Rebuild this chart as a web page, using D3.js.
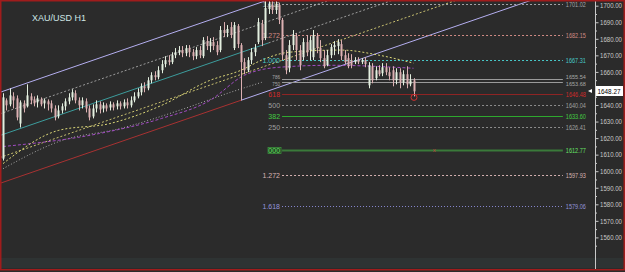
<!DOCTYPE html>
<html>
<head>
<meta charset="utf-8">
<script src="https://cdn.jsdelivr.net/npm/d3@7"></script>
<style>
  body { margin: 0; background: #2b2b2b; }
  svg { display: block; }
</style>
</head>
<body>
<svg id="chart"></svg>
<script>
// XAU/USD hourly candles
const title = "XAU/USD H1";

const opens = [1607.6,1642.8,1640.4,1645.2,1644.0,1628.8,1641.0,1639.2,1645.2,1643.4,
  1641.6,1643.4,1641.0,1642.2,1641.0,1637.9,1633.1,1636.7,1639.2,1642.2,
  1644.6,1647.1,1642.8,1639.8,1642.2,1637.9,1633.1,1637.9,1640.4,1637.9,
  1639.8,1638.5,1640.4,1639.2,1641.0,1639.2,1641.6,1639.8,1642.8,1645.2,
  1647.7,1651.3,1650.1,1654.9,1658.0,1656.8,1661.0,1664.7,1667.1,1665.9,
  1670.1,1671.9,1673.2,1671.3,1674.4,1671.9,1669.5,1673.2,1669.5,1678.6,
  1675.6,1678.0,1676.2,1673.2,1685.3,1683.5,1687.1,1674.4,1687.7,1676.2,
  1665.9,1661.0,1667.1,1671.9,1678.0,1688.9,1680.4,1698.0,1700.5,1697.4,
  1700.5,1691.4,1670.1,1662.2,1676.2,1681.6,1673.2,1668.9,1678.0,1673.2,
  1668.9,1681.6,1674.4,1668.3,1664.0,1670.1,1675.0,1675.6,1676.8,1670.1,
  1668.3,1667.1,1665.9,1667.1,1665.9,1667.1,1651.9,1663.4,1656.2,1661.0,
  1659.2,1662.8,1659.8,1661.0,1654.9,1659.8,1653.7,1658.6,1652.5,1654.9];
const highs = [1647.1,1644.0,1650.1,1647.7,1645.8,1642.8,1642.8,1652.5,1647.1,1645.2,
  1645.8,1644.6,1644.0,1643.4,1642.8,1639.8,1639.8,1641.0,1644.0,1647.1,
  1649.5,1648.9,1644.6,1644.6,1644.0,1639.8,1640.4,1642.8,1642.2,1641.6,
  1641.0,1642.2,1641.6,1642.8,1642.2,1643.4,1644.0,1645.2,1647.7,1650.1,
  1653.1,1653.7,1656.8,1659.8,1660.4,1663.4,1667.1,1669.5,1670.1,1671.9,
  1674.4,1675.6,1675.6,1676.2,1676.2,1673.8,1675.0,1675.6,1681.0,1681.6,
  1680.4,1681.0,1678.6,1687.7,1690.1,1688.3,1690.1,1690.1,1688.9,1677.4,
  1668.3,1668.9,1674.4,1676.8,1692.6,1691.4,1703.5,1703.5,1702.9,1702.9,
  1701.7,1692.6,1673.2,1679.2,1685.3,1683.5,1676.2,1680.4,1682.3,1681.6,
  1685.3,1683.5,1679.2,1673.2,1673.2,1676.8,1678.6,1679.8,1679.2,1673.2,
  1671.3,1670.7,1668.9,1668.9,1668.3,1668.9,1665.9,1665.3,1663.4,1664.0,
  1665.3,1665.3,1662.8,1663.4,1662.2,1662.2,1661.0,1663.4,1658.6,1656.2];
const lows = [1606.4,1636.7,1639.2,1637.9,1630.7,1626.4,1635.5,1638.5,1640.4,1639.2,
  1638.5,1639.2,1637.9,1636.7,1635.5,1630.7,1631.9,1634.9,1636.7,1640.4,
  1642.8,1641.0,1636.7,1637.9,1635.5,1630.7,1631.9,1635.5,1634.9,1635.5,
  1636.1,1636.7,1636.7,1637.3,1637.3,1637.9,1637.9,1638.5,1641.6,1644.0,
  1645.8,1647.7,1648.9,1653.1,1654.9,1655.5,1659.2,1662.8,1664.0,1664.7,
  1668.3,1670.1,1668.9,1669.5,1668.9,1667.1,1667.7,1668.3,1668.3,1673.2,
  1671.9,1673.2,1670.1,1671.9,1681.0,1681.0,1680.4,1673.2,1674.4,1642.8,
  1658.6,1659.8,1664.7,1669.5,1676.8,1675.6,1679.2,1695.0,1695.0,1695.0,
  1688.9,1667.1,1658.6,1659.8,1673.2,1667.1,1661.0,1667.1,1669.5,1667.1,
  1667.1,1671.3,1665.9,1662.2,1663.4,1668.3,1670.1,1670.7,1667.1,1664.7,
  1662.2,1662.2,1664.7,1664.7,1664.7,1662.8,1650.1,1653.1,1654.9,1657.4,
  1657.4,1658.0,1654.9,1651.3,1652.5,1650.1,1651.9,1650.1,1651.3,1645.2];
const closes = [1644.6,1639.8,1645.8,1642.8,1632.5,1641.6,1637.9,1645.8,1642.8,1641.0,
  1644.0,1640.4,1642.8,1640.4,1637.9,1632.5,1636.7,1639.2,1642.2,1644.6,
  1647.7,1642.8,1639.8,1642.8,1637.9,1632.5,1637.9,1640.4,1637.3,1639.8,
  1637.9,1640.4,1638.5,1641.0,1639.2,1641.6,1639.8,1642.8,1645.2,1647.7,
  1651.3,1650.1,1654.9,1658.0,1656.8,1661.0,1664.7,1667.1,1665.9,1670.1,
  1671.9,1673.2,1671.3,1674.4,1671.9,1669.5,1673.2,1670.1,1679.2,1675.6,
  1678.0,1675.6,1671.9,1685.3,1683.5,1685.9,1682.3,1688.3,1676.8,1665.9,
  1661.0,1667.1,1671.9,1674.4,1690.1,1679.2,1698.6,1701.1,1697.4,1701.1,
  1691.4,1670.1,1661.0,1676.2,1682.3,1673.2,1664.0,1678.0,1671.9,1679.2,
  1682.3,1674.4,1668.3,1663.4,1670.1,1675.0,1676.2,1678.0,1669.5,1665.9,
  1663.4,1664.0,1667.1,1665.9,1667.1,1664.7,1664.0,1654.9,1661.0,1658.6,
  1662.8,1659.8,1657.4,1654.9,1659.8,1653.7,1658.6,1652.5,1654.9,1648.27];

// moving averages, sampled at candle index
const maFastIdx = [0, 16, 31, 46, 60, 69, 75, 83, 98, 109, 119];
const maFastVal = [1604.6, 1624.6, 1628.8, 1639.8, 1654.9, 1661.0, 1667.1, 1671.9, 1673.2, 1670.1, 1665.3];
const maSlowIdx = [0, 28, 46, 60, 70, 80, 95, 119];
const maSlowVal = [1614.9, 1622.8, 1631.9, 1642.8, 1658.0, 1662.8, 1664.0, 1662.2];
const maLongIdx = [0, 17, 34, 51, 66, 75];
const maLongVal = [1601.5, 1618.5, 1625.8, 1636.7, 1647.7, 1653.7];

// channel: two points on the upper line (index, price) and offsets of the parallels
const channelAnchor = [[0, 1648.3], [60, 1691.4]];
const channelOffsets = [0, -13, -26.1, -39.4, -55];

// fibonacci levels
const fibLabels = ["1.618", "1.272", "1.000", "786", "750", "618", "500", "382", "250", "000", "1.272", "1.618"];
const fibValues = [1701.02, 1682.15, 1667.31, 1655.54, 1653.68, 1646.48, 1640.04, 1633.60, 1626.41, 1612.77, 1597.93, 1579.06];
const fibFrom = 80.6, fibTo = 162.3;

const priceTicks = [1560, 1570, 1580, 1590, 1600, 1610, 1620, 1630, 1640, 1650, 1660, 1670, 1680, 1690, 1700];
const minorTicks = [1555, 1565, 1575, 1585, 1595, 1605, 1615, 1625, 1635, 1645, 1655, 1665, 1675, 1685, 1695, 1705];
const lastPrice = 1648.27;

const W = 625, H = 272;
const axisX = 595;

const svg = d3.select("#chart").attr("width", W).attr("height", H);

svg.append("rect").attr("width", W).attr("height", H).attr("fill", "#2b2b2b");
svg.append("rect").attr("x", 1).attr("y", 258).attr("width", 622).attr("height", 10).attr("fill", "#2e3333");

const x = d3.scaleLinear().domain([0, closes.length - 1]).range([3, 413.5]);
const y = d3.scaleLinear().domain([1560, 1700]).range([237.4, 5.7]);

svg.append("defs").append("clipPath").attr("id", "plot")
  .append("rect").attr("x", 1).attr("y", 1).attr("width", axisX - 1).attr("height", 267);

const plot = svg.append("g").attr("clip-path", "url(#plot)");

// channel lines
function chanPrice(i, off) {
  const [a, b] = channelAnchor;
  return a[1] + (i - a[0]) * (b[1] - a[1]) / (b[0] - a[0]) + off;
}
const channelParts = [
  { k: 0, from: -2, to: 200, color: "#b4aef0", dash: null },
  { k: 1, from: -2, to: 200, color: "#9c9c9c", dash: "2,2" },
  { k: 2, from: -2, to: 77, color: "#3c9c9c", dash: null },
  { k: 2, from: 77, to: 200, color: "#9c9c9c", dash: "2,2" },
  { k: 3, from: -2, to: 200, color: "#c8c070", dash: "2,2" },
  { k: 4, from: -2, to: 69, color: "#a83232", dash: null },
  { k: 4, from: 69, to: 200, color: "#b4aef0", dash: null }
];
channelParts.forEach(p => {
  plot.append("line")
    .attr("x1", x(p.from)).attr("y1", y(chanPrice(p.from, channelOffsets[p.k])))
    .attr("x2", x(p.to)).attr("y2", y(chanPrice(p.to, channelOffsets[p.k])))
    .attr("stroke", p.color).attr("stroke-width", 1)
    .attr("stroke-dasharray", p.dash);
});

// moving averages
const maLine = d3.line().x(d => x(d[0])).y(d => y(d[1])).curve(d3.curveMonotoneX);
[
  { idx: maLongIdx, val: maLongVal, color: "#a8a8a8", dash: "1,2" },
  { idx: maSlowIdx, val: maSlowVal, color: "#a24cc4", dash: "3,2" },
  { idx: maFastIdx, val: maFastVal, color: "#dcd878", dash: "2,2" }
].forEach(m => {
  plot.append("path")
    .attr("d", maLine(m.idx.map((d, i) => [d, m.val[i]])))
    .attr("fill", "none").attr("stroke", m.color).attr("stroke-width", 1)
    .attr("stroke-dasharray", m.dash);
});

// fibonacci levels
const fibLook = [
  { c: "#a4a4a8", t: "#a4a4a8", dash: "2,2", w: 1 },
  { c: "#d08a84", t: "#d08a84", dash: "2,2", w: 1 },
  { c: "#48c8c8", t: "#48c8c8", dash: "2,2", w: 1 },
  { c: "#9a9a9a", t: "#a8a8a8", dash: null, w: 1 },
  { c: "#9a9a9a", t: "#a8a8a8", dash: null, w: 1 },
  { c: "#8e2424", t: "#d02a2a", dash: null, w: 1 },
  { c: "#8c8c8c", t: "#a0a0a0", dash: "2,2", w: 1 },
  { c: "#2ea82e", t: "#44cc44", dash: null, w: 1 },
  { c: "#8c8c8c", t: "#a0a0a0", dash: "2,2", w: 1 },
  { c: "#3a7a3a", t: "#66e066", dash: null, w: 2 },
  { c: "#d4b0b0", t: "#d8b4b4", dash: "2,2", w: 1 },
  { c: "#8888d0", t: "#9494dc", dash: "1,2", w: 1 }
];
// the 786 / 750 pair sits only 3 px apart: small text, nudged apart
const fibNudge = { 3: -2, 4: 2 };
const fibG = plot.append("g");
fibValues.forEach((v, i) => {
  const yy = Math.round(y(v)) + 0.5;
  const st = fibLook[i];
  fibG.append("line")
    .attr("x1", x(fibFrom) + 1).attr("x2", x(fibTo))
    .attr("y1", yy).attr("y2", yy)
    .attr("stroke", st.c).attr("stroke-width", st.w)
    .attr("stroke-dasharray", st.dash);
  if (fibLabels[i] === "000") {
    fibG.append("rect")
      .attr("x", x(fibFrom) - 13).attr("y", yy - 3)
      .attr("width", 13).attr("height", 6)
      .attr("fill", "#234423").attr("stroke", "#3e8e3e").attr("stroke-width", 0.8);
  }
  const fs = (i in fibNudge) ? 4.6 : 7;
  const ty = yy + fs * 0.35 + (fibNudge[i] || 0);
  fibG.append("text")
    .attr("x", x(fibFrom) - 1).attr("y", ty)
    .attr("text-anchor", "end")
    .attr("font-family", "Liberation Sans, Arial, sans-serif")
    .attr("font-size", fs).attr("fill", st.t)
    .text(fibLabels[i]);
  fibG.append("text")
    .attr("x", x(fibTo) + 3).attr("y", ty)
    .attr("font-family", "Liberation Sans, Arial, sans-serif")
    .attr("font-size", fs).attr("fill", st.t)
    .attr("textLength", 20).attr("lengthAdjust", "spacingAndGlyphs")
    .text(v.toFixed(2));
});

// candles
const candles = plot.append("g");
closes.forEach((c, i) => {
  const o = opens[i];
  const bull = c >= o;
  const col = bull ? "#e4f0e0" : "#dcb0b2";
  const cx = Math.round(x(i));
  candles.append("line")
    .attr("x1", cx + 0.5).attr("x2", cx + 0.5)
    .attr("y1", y(highs[i])).attr("y2", y(lows[i]))
    .attr("stroke", col).attr("stroke-width", 1);
  const top = y(Math.max(o, c));
  const h = Math.max(1, Math.abs(y(o) - y(c)));
  candles.append("rect")
    .attr("x", cx - 0.5).attr("y", top)
    .attr("width", 2).attr("height", h)
    .attr("fill", col);
});

// red marker at the last low and a cross on the 000 line
const li = closes.length - 1;
plot.append("circle")
  .attr("cx", x(li) + 0.5).attr("cy", y(lows[li]) + 1)
  .attr("r", 3).attr("fill", "none").attr("stroke", "#d03030").attr("stroke-width", 1);
plot.append("text")
  .attr("x", x(125)).attr("y", y(fibValues[9]) + 2)
  .attr("text-anchor", "middle")
  .attr("font-family", "Liberation Sans, Arial, sans-serif")
  .attr("font-size", 6).attr("fill", "#c84040")
  .text("x");

// price axis
svg.append("line")
  .attr("x1", axisX + 0.5).attr("x2", axisX + 0.5).attr("y1", 0).attr("y2", 270)
  .attr("stroke", "#c8c8c8");

const ly = Math.round(y(lastPrice));
const axisG = svg.append("g").attr("transform", `translate(${axisX + 0.5},0)`)
  .call(d3.axisRight(y).tickValues(priceTicks).tickSize(3).tickPadding(1.5)
    .tickFormat(d => d.toFixed(2)));
axisG.select(".domain").remove();
axisG.selectAll(".tick line").attr("stroke", "#c8c8c8");
axisG.selectAll(".tick text")
  .attr("fill", "#c8c8c8")
  .attr("font-family", "Liberation Sans, Arial, sans-serif")
  .attr("font-size", 7)
  .attr("textLength", 22).attr("lengthAdjust", "spacingAndGlyphs");
// the label hidden behind the last-price box is not drawn
axisG.selectAll(".tick text").filter(d => Math.abs(y(d) - ly) < 9).remove();

const minorG = svg.append("g").attr("transform", `translate(${axisX + 0.5},0)`)
  .call(d3.axisRight(y).tickValues(minorTicks).tickSize(1.5).tickFormat(""));
minorG.select(".domain").remove();
minorG.selectAll(".tick line").attr("stroke", "#c8c8c8");

// last price box
svg.append("rect")
  .attr("x", axisX + 1).attr("y", ly - 5).attr("width", 27).attr("height", 10)
  .attr("fill", "#ffffff");
svg.append("text")
  .attr("x", axisX + 2.5).attr("y", ly + 2.5)
  .attr("font-family", "Liberation Sans, Arial, sans-serif")
  .attr("font-size", 7).attr("fill", "#000000")
  .attr("textLength", 23).attr("lengthAdjust", "spacingAndGlyphs")
  .text(lastPrice.toFixed(2));
svg.append("path")
  .attr("d", `M${axisX - 7},${ly} L${axisX - 3},${ly - 2} L${axisX - 3},${ly + 2} Z`)
  .attr("fill", "#ffffff");

// title
svg.append("text")
  .attr("x", 32).attr("y", 21)
  .attr("font-family", "Liberation Sans, Arial, sans-serif")
  .attr("font-size", 9).attr("fill", "#cfe6e6")
  .text(title);

// window frame
svg.append("rect")
  .attr("x", 0.75).attr("y", 0.75).attr("width", W - 1.5).attr("height", 269)
  .attr("fill", "none").attr("stroke", "#a01c1c").attr("stroke-width", 1.5);
</script>
</body>
</html>
